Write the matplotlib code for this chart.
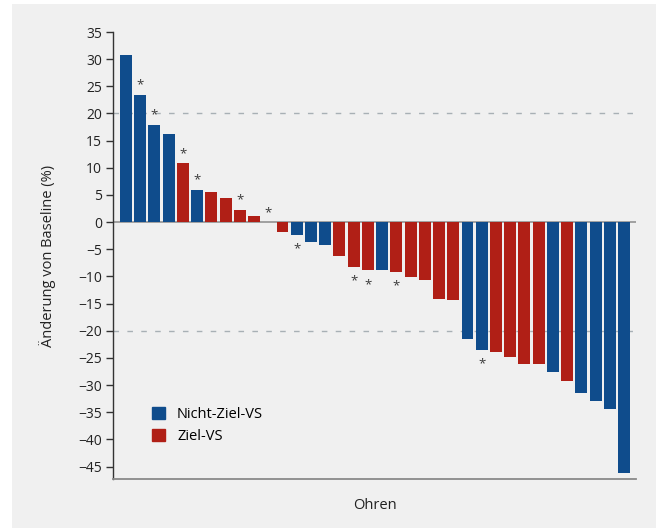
import matplotlib.pyplot as plt
from matplotlib.patches import Patch, Rectangle

# change from baseline per ear, sorted
values = [30.8, 23.4, 17.9, 16.3, 10.8, 6.0, 5.6, 4.5, 2.3, 1.2, 0.0,
          -1.8, -2.3, -3.6, -4.3, -6.2, -8.2, -8.9, -8.9, -9.1, -10.2,
          -10.6, -14.2, -14.4, -21.5, -23.6, -24.0, -24.9, -26.2, -26.2, -27.6,
          -29.3, -31.5, -33.0, -34.4, -46.2]
# 1 = Ziel-VS, 0 = Nicht-Ziel-VS
target = [0, 0, 0, 0, 1, 0, 1, 1, 1, 1, 1,
          1, 0, 0, 0, 1, 1, 1, 0, 1, 1,
          1, 1, 1, 0, 0, 1, 1, 1, 1, 0,
          1, 0, 0, 0, 0]
starred = [1, 2, 4, 5, 8, 10, 12, 16, 17, 19, 25]
yticks = list(range(35, -46, -5))

blue = '#0f4c8c'
red = '#b01f16'

plt.rcParams['font.family'] = ['Open Sans', 'DejaVu Sans']

fig = plt.figure(figsize=(6.56, 5.28), dpi=100)
fig.patches.append(Rectangle((12 / 656, 0), 1, 1 - 4 / 528, transform=fig.transFigure,
                             facecolor='#f0f0f0', edgecolor='none', zorder=-10))
ax = fig.add_axes([113 / 656, 1 - 479 / 528, 523 / 656, 447 / 528])
ax.set_facecolor('none')

x = list(range(len(values)))
colors = [red if t else blue for t in target]
ax.bar(x, values, width=0.84, color=colors, zorder=3)

for i in starred:
    v = values[i]
    off = 7 if v >= 0 else -10
    ax.annotate('*', (i, v), xytext=(0, off), textcoords='offset points',
                ha='center', va='center', fontsize=9.5, color='#3a3a3a', zorder=4)

ax.axhline(0, color='#9a9a9a', lw=1.3, zorder=2)
for yy in (20, -20):
    ax.axhline(yy, color='#a8b0b5', lw=1, dashes=(4, 6), zorder=1)

ax.set_xlim(-0.91, 35.84)
ax.set_ylim(-47.3, 35)
ax.set_yticks(yticks)
ax.set_yticklabels([str(t).replace('-', '\u2212') for t in yticks], fontsize=10, color='#222222')
ax.tick_params(axis='y', length=5, width=1, color='#333333', pad=3)
ax.set_xticks([])

ax.spines['top'].set_visible(False)
ax.spines['right'].set_visible(False)
ax.spines['left'].set_color('#333333')
ax.spines['left'].set_linewidth(1)
ax.spines['bottom'].set_color('#8a8a8a')
ax.spines['bottom'].set_linewidth(1.3)

ax.set_ylabel('Änderung von Baseline (%)', fontsize=10.5, color='#222222', labelpad=16)
ax.set_xlabel('Ohren', fontsize=10.5, color='#222222', labelpad=14)

handles = [Patch(color=blue, label='Nicht-Ziel-VS'), Patch(color=red, label='Ziel-VS')]
ax.legend(handles=handles, loc='upper left', bbox_to_anchor=(0.05, 0.19), frameon=False,
          fontsize=10.5, handlelength=0.9, handleheight=0.9, handletextpad=0.8,
          labelspacing=0.45)

fig.savefig('out.png', dpi=100)
